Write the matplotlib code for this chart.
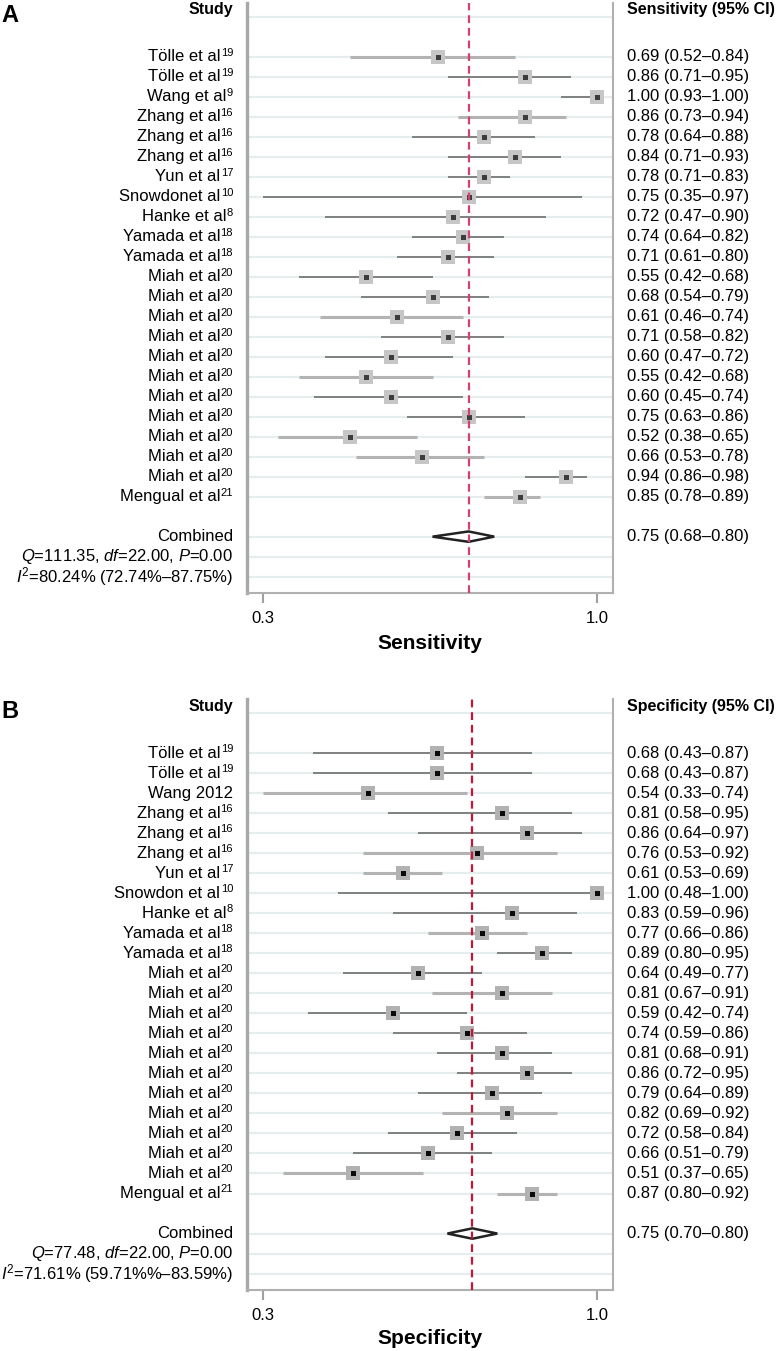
import numpy as np
import matplotlib
matplotlib.use('Agg')
import matplotlib.pyplot as plt
from matplotlib.patches import Polygon
from matplotlib.transforms import blended_transform_factory

plt.rcParams['font.family'] = ['Liberation Sans', 'DejaVu Sans']
plt.rcParams['mathtext.fontset'] = 'custom'
plt.rcParams['mathtext.rm'] = 'Liberation Sans'
plt.rcParams['mathtext.it'] = 'Liberation Sans:italic'
plt.rcParams['mathtext.bf'] = 'Liberation Sans:bold'

# Study labels and reference numbers (superscripts)
names_a = ['Tölle et al', 'Tölle et al', 'Wang et al', 'Zhang et al', 'Zhang et al',
           'Zhang et al', 'Yun et al', 'Snowdonet al', 'Hanke et al', 'Yamada et al',
           'Yamada et al'] + ['Miah et al'] * 11 + ['Mengual et al']
names_b = ['Tölle et al', 'Tölle et al', 'Wang 2012', 'Zhang et al', 'Zhang et al',
           'Zhang et al', 'Yun et al', 'Snowdon et al', 'Hanke et al', 'Yamada et al',
           'Yamada et al'] + ['Miah et al'] * 11 + ['Mengual et al']
refs_a = ['19', '19', '9', '16', '16', '16', '17', '10', '8', '18', '18'] + ['20'] * 11 + ['21']
refs_b = ['19', '19', '', '16', '16', '16', '17', '10', '8', '18', '18'] + ['20'] * 11 + ['21']

# Sensitivity (panel A)
sens = [0.69, 0.86, 1.00, 0.86, 0.78, 0.84, 0.78, 0.75, 0.72, 0.74, 0.71, 0.55,
        0.68, 0.61, 0.71, 0.60, 0.55, 0.60, 0.75, 0.52, 0.66, 0.94, 0.85]
sens_lo = [0.52, 0.71, 0.93, 0.73, 0.64, 0.71, 0.71, 0.35, 0.47, 0.64, 0.61, 0.42,
           0.54, 0.46, 0.58, 0.47, 0.42, 0.45, 0.63, 0.38, 0.53, 0.86, 0.78]
sens_hi = [0.84, 0.95, 1.00, 0.94, 0.88, 0.93, 0.83, 0.97, 0.90, 0.82, 0.80, 0.68,
           0.79, 0.74, 0.82, 0.72, 0.68, 0.74, 0.86, 0.65, 0.78, 0.98, 0.89]
sens_pooled = (0.75, 0.68, 0.80)
sens_stats = ['$\\mathit{Q}$=111.35, $\\mathit{df}$=22.00, $\\mathit{P}$=0.00',
              '$\\mathit{I}^2$=80.24% (72.74%–87.75%)']

# Specificity (panel B)
spec = [0.68, 0.68, 0.54, 0.81, 0.86, 0.76, 0.61, 1.00, 0.83, 0.77, 0.89, 0.64,
        0.81, 0.59, 0.74, 0.81, 0.86, 0.79, 0.82, 0.72, 0.66, 0.51, 0.87]
spec_lo = [0.43, 0.43, 0.33, 0.58, 0.64, 0.53, 0.53, 0.48, 0.59, 0.66, 0.80, 0.49,
           0.67, 0.42, 0.59, 0.68, 0.72, 0.64, 0.69, 0.58, 0.51, 0.37, 0.80]
spec_hi = [0.87, 0.87, 0.74, 0.95, 0.97, 0.92, 0.69, 1.00, 0.96, 0.86, 0.95, 0.77,
           0.91, 0.74, 0.86, 0.91, 0.95, 0.89, 0.92, 0.84, 0.79, 0.65, 0.92]
spec_pooled = (0.75, 0.70, 0.80)
spec_stats = ['$\\mathit{Q}$=77.48, $\\mathit{df}$=22.00, $\\mathit{P}$=0.00',
              '$\\mathit{I}^2$=71.61% (59.71%%–83.59%)']

# line shade per study (1 = light thick, 0 = dark thin)
shade_a = [1, 0, 0, 1, 0, 0, 0, 0, 0, 0, 0, 0, 0, 1, 0, 0, 1, 0, 0, 1, 1, 0, 1]
shade_b = [0, 0, 1, 0, 0, 1, 1, 0, 0, 1, 0, 0, 1, 0, 0, 0, 0, 0, 1, 0, 0, 1, 1]

W, H = 779, 1351
fig = plt.figure(figsize=(W / 100, H / 100), dpi=100)
FS = 12


def study_label(ax, tr, x, y, name, ref):
    # superscript first (right aligned), then the name placed left of it
    if not ref:
        ax.text(x, y, name, transform=tr, ha='right', va='center', fontsize=FS)
        return
    sup = ax.text(x, y - 0.2, ref, transform=tr, ha='right', va='center',
                  fontsize=8)
    ax.annotate(name, xy=(0, 0.5), xycoords=sup, xytext=(-0.2, -2.9),
                textcoords='offset points', ha='right', va='center', fontsize=FS)


def forest(top_px, bot_px, est, lo, hi, names, refs, shade, pooled, stats,
           col_title, xlabel, letter, dash_color, inner_color, outer_color, xlab_px):
    left_px, right_px = 247, 613
    ax = fig.add_axes([left_px / W, 1 - bot_px / H, (right_px - left_px) / W,
                       (bot_px - top_px) / H])
    n = len(est)
    rows = np.arange(2, 2 + n)
    comb_row = rows[-1] + 2
    stat_rows = [comb_row + 1, comb_row + 2]

    # light row gridlines
    for r in [0] + list(rows) + [comb_row] + stat_rows:
        ax.axhline(r, color='#e5edef', lw=1.6, zorder=0)

    # confidence intervals and boxes
    for i in range(n):
        if shade[i]:
            ax.plot([lo[i], hi[i]], [rows[i], rows[i]], color='#b3b3b3', lw=2.2,
                    solid_capstyle='butt', zorder=2)
        else:
            ax.plot([lo[i], hi[i]], [rows[i], rows[i]], color='#787878', lw=1.3,
                    solid_capstyle='butt', zorder=2)
    ax.plot(est, rows, 's', color=outer_color, ms=9.5, mew=0, zorder=3)
    ax.plot(est, rows, 's', color=inner_color, ms=3.6, mew=0, zorder=4)

    # pooled diamond
    p, plo, phi = pooled
    dh = 0.26
    ax.add_patch(Polygon([[plo, comb_row], [p, comb_row - dh], [phi, comb_row],
                          [p, comb_row + dh]], closed=True, facecolor='white',
                         edgecolor='#222222', lw=1.8, zorder=5))
    ax.axvline(p, color=dash_color, lw=1.6, ls=(0, (3.5, 2.2)), zorder=6)

    # axes
    xmin = min(lo)
    pad = 0.048 * (1.0 - xmin)
    ax.set_xlim(xmin - pad, 1.0 + pad)
    ax.set_ylim(comb_row + 2.82, -0.7)
    ax.set_yticks([])
    ax.set_xticks([xmin, 1.0])
    ax.set_xticklabels(['%.1f' % (np.floor(xmin * 10) / 10), '1.0'], fontsize=FS)
    ax.tick_params(axis='x', length=7, width=1.5, color='#a0a0a0', pad=6)
    ax.spines['top'].set_visible(False)
    ax.spines['left'].set_color('#a8a8a8')
    ax.spines['left'].set_linewidth(2.4)
    for s in ['right', 'bottom']:
        ax.spines[s].set_color('#b0b0b0')
        ax.spines[s].set_linewidth(1.5)

    # left and right text columns
    tr = blended_transform_factory(ax.transAxes, ax.transData)
    xl = (233 - left_px) / (right_px - left_px)
    xr = (627 - left_px) / (right_px - left_px)
    ax.text(xl, -0.35, 'Study', transform=tr, ha='right', va='center',
            fontsize=11.5, fontweight='bold')
    ax.text(xr, -0.35, col_title, transform=tr, ha='left', va='center',
            fontsize=11.5, fontweight='bold')
    for i in range(n):
        study_label(ax, tr, xl, rows[i], names[i], refs[i])
        ax.text(xr, rows[i], '%.2f (%.2f–%.2f)' % (est[i], lo[i], hi[i]),
                transform=tr, ha='left', va='center', fontsize=FS)
    ax.text(xl, comb_row, 'Combined', transform=tr, ha='right', va='center',
            fontsize=FS)
    ax.text(xr, comb_row, '%.2f (%.2f–%.2f)' % pooled, transform=tr, ha='left',
            va='center', fontsize=FS)
    for r, s in zip(stat_rows, stats):
        ax.text(xl, r, s, transform=tr, ha='right', va='center', fontsize=FS)

    fig.text((left_px + right_px) / 2 / W, 1 - xlab_px / H, xlabel, ha='center',
             va='center', fontsize=15, fontweight='bold')
    fig.text(1 / W, 1 - (top_px + 12) / H, letter, ha='left', va='center',
             fontsize=17, fontweight='bold')
    return ax


forest(3, 593, sens, sens_lo, sens_hi, names_a, refs_a, shade_a, sens_pooled,
       sens_stats, 'Sensitivity (95% CI)', 'Sensitivity', 'A',
       '#d4416e', '#3c3c3c', '#c6c6c6', 644)
forest(699, 1290, spec, spec_lo, spec_hi, names_b, refs_b, shade_b, spec_pooled,
       spec_stats, 'Specificity (95% CI)', 'Specificity', 'B',
       '#c0163a', '#0a0a0a', '#b2b2b2', 1338)

fig.savefig('out.png', dpi=100)
